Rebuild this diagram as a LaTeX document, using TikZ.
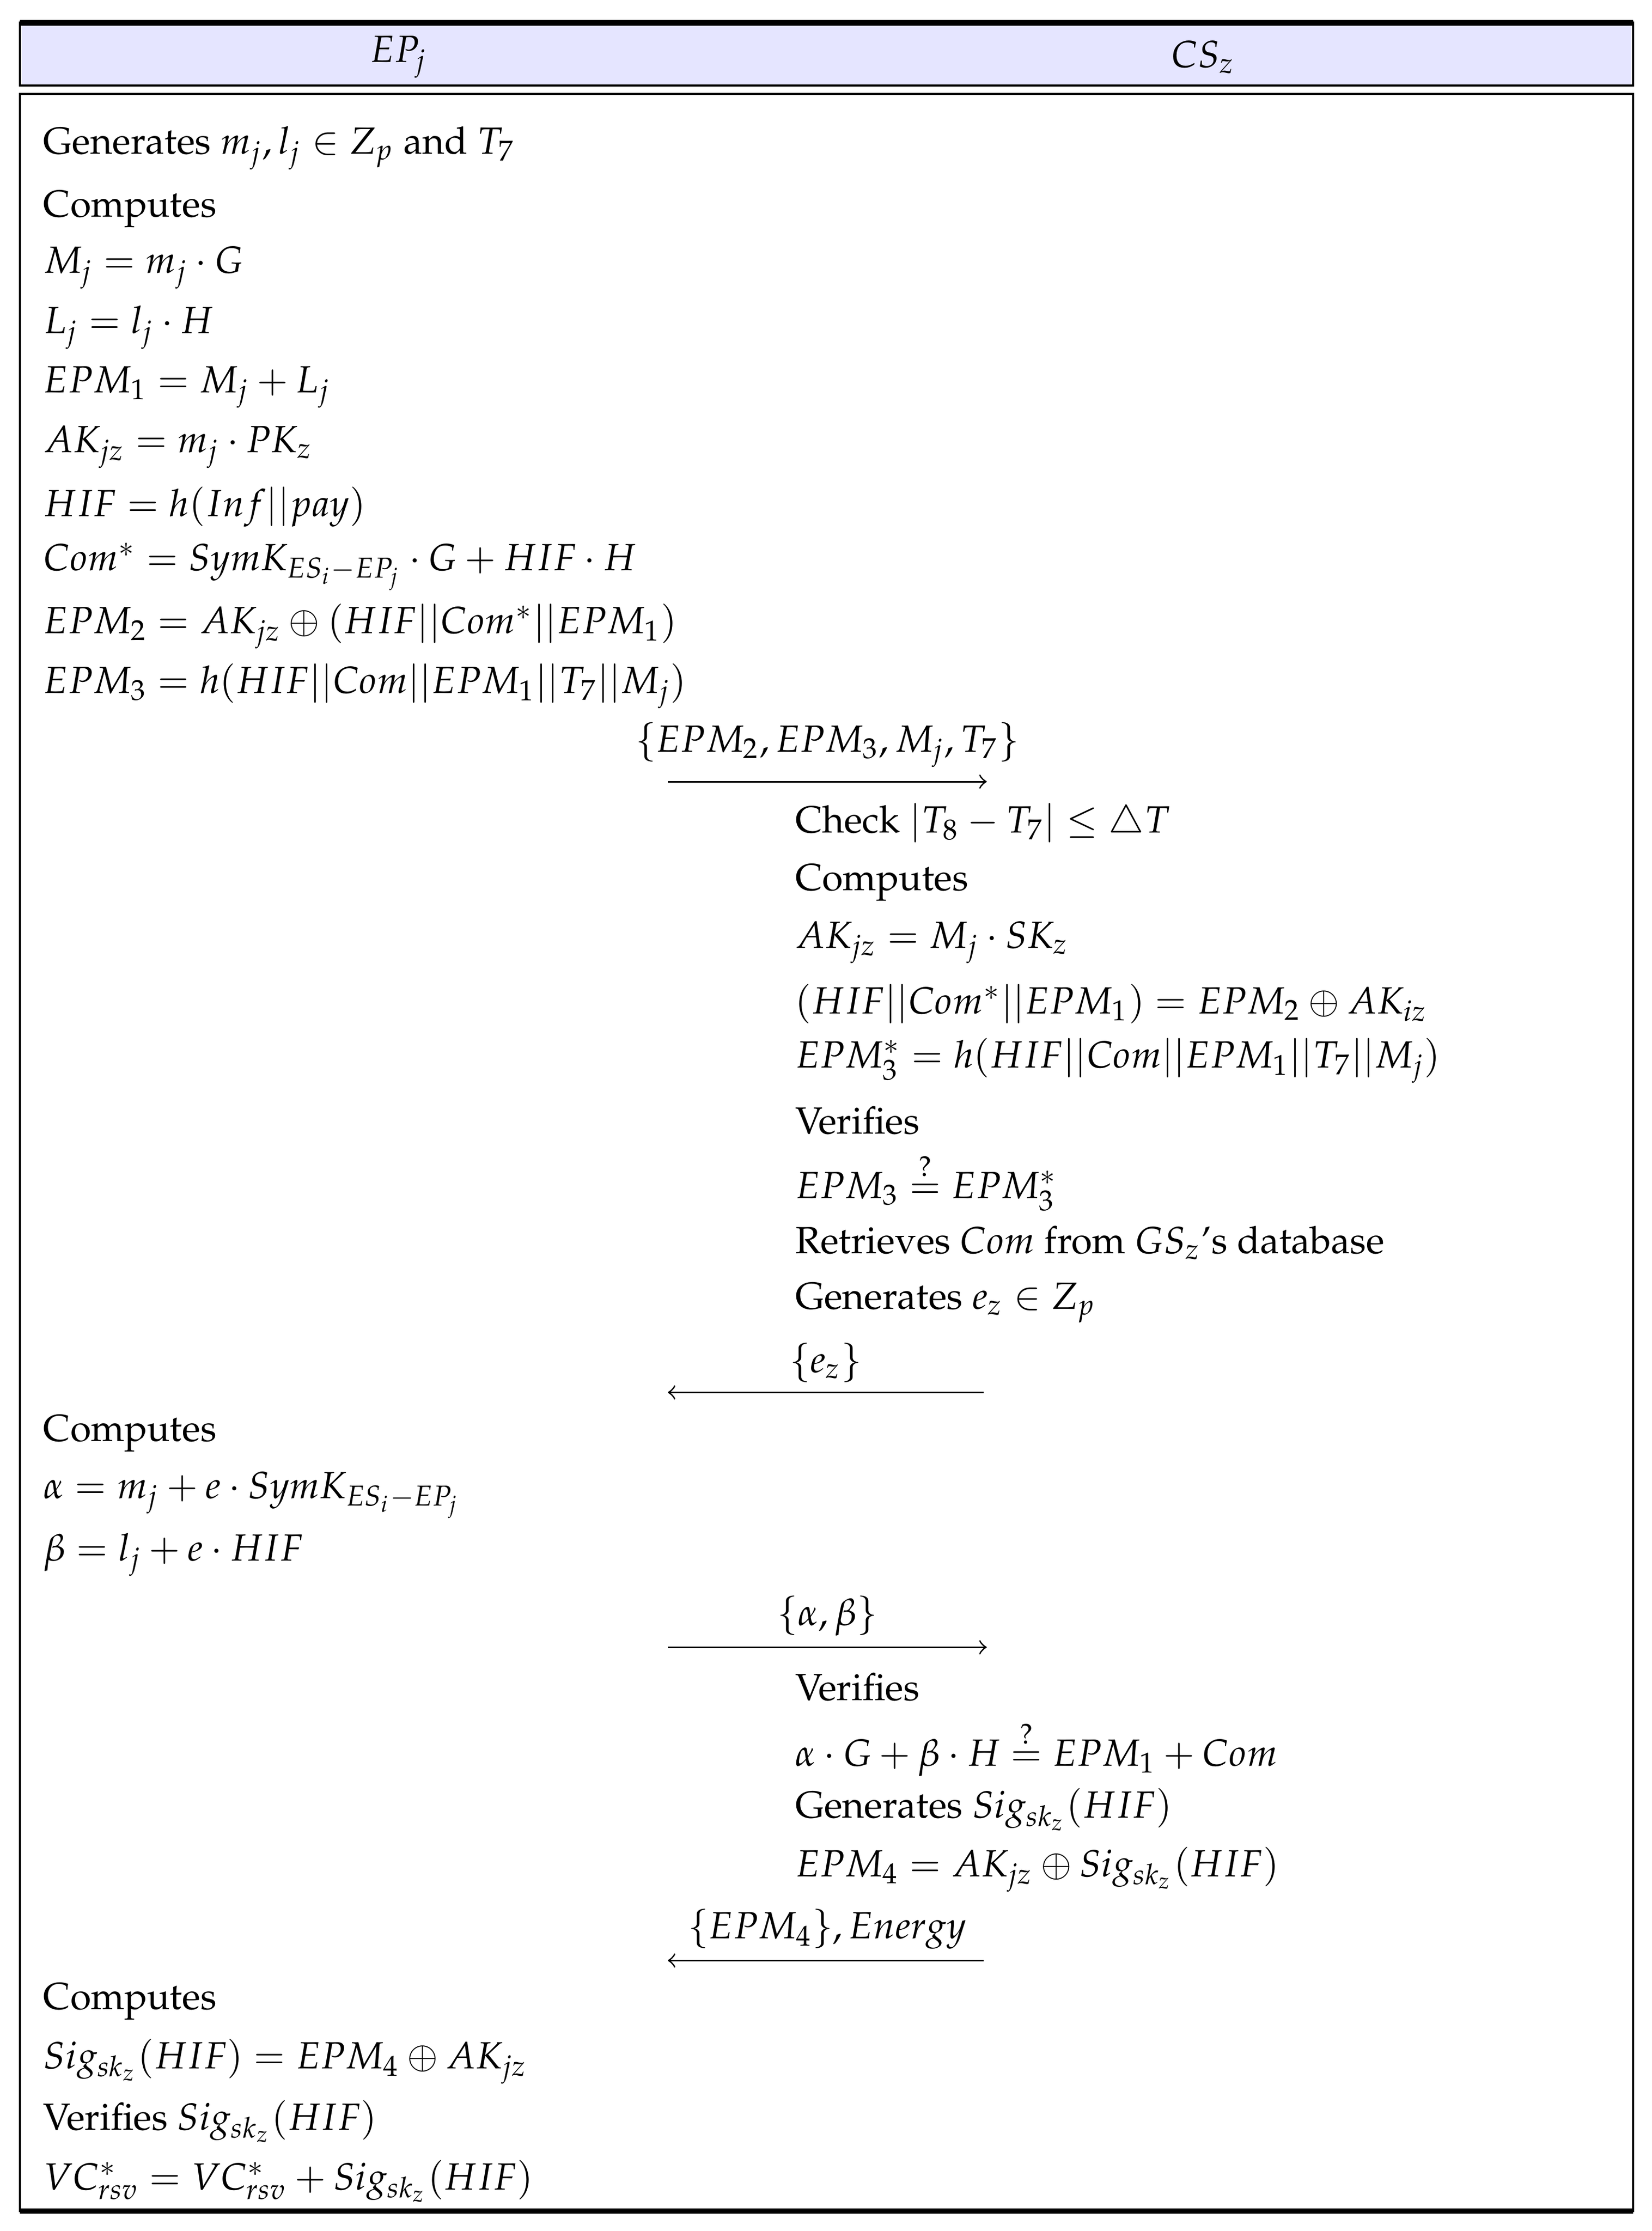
\documentclass[tikz,border=0pt]{standalone}
\usepackage[T1]{fontenc}
\usepackage{mathpazo}
\usepackage{amssymb}
\begin{document}
\begin{tikzpicture}[x=0.35pt,y=-0.35pt,
  txt/.style={anchor=west,inner sep=0pt,font=\fontfamily{ppl}\fontsize{9.3}{11}\selectfont},
  lbl/.style={anchor=center,inner sep=0pt,font=\fontfamily{ppl}\fontsize{9.3}{11}\selectfont},
  msg/.style={->,>=to,line width=0.4pt}]
\useasboundingbox (0,0) rectangle (1160,1567);
\draw[fill=blue!10,line width=0.6pt] (14,16) rectangle (1147,60);
\draw[line width=1.4pt] (14,16) -- (1147,16);
\draw[line width=0.6pt] (14,66) rectangle (1147,1553);
\draw[line width=1.4pt] (14,1553) -- (1147,1553);
\node[lbl] (h1) at (280,40) {$EP_j$};
\node[lbl] (h2) at (845,40) {$CS_z$};
% left column 1
\node[txt] (l1) at (30,104) {Generates $m_j, l_j \in Z_p$ and $T_7$};
\node[txt] (l2) at (30,147) {Computes};
\node[txt] (l3) at (30,188) {$M_j = m_j \cdot G$};
\node[txt] (l4) at (30,230) {$L_j = l_j \cdot H$};
\node[txt] (l5) at (30,272) {$EPM_1 = M_j + L_j$};
\node[txt] (l6) at (30,314) {$AK_{jz} = m_j \cdot PK_z$};
\node[txt] (l7) at (30,356) {$HIF = h(Inf||pay)$};
\node[txt] (l8) at (30,398) {$Com^{*} = SymK_{ES_i - EP_j} \cdot G + HIF \cdot H$};
\node[txt] (l9) at (30,440) {$EPM_2 = AK_{jz} \oplus (HIF||Com^{*}||EPM_1)$};
\node[txt] (l10) at (30,482) {$EPM_3 = h(HIF||Com||EPM_1||T_7||M_j)$};
% message 1
\coordinate (a1s) at (469,549); \coordinate (a1e) at (693,549);
\draw[msg] (a1s) -- (a1e);
\node[lbl] (m1) at (581,523) {$\{EPM_2, EPM_3, M_j, T_7\}$};
% right column 1
\node[txt] (r1) at (558,578) {Check $|T_8 - T_7| \leq \triangle T$};
\node[txt] (r2) at (558,620) {Computes};
\node[txt] (r3) at (558,662) {$AK_{jz} = M_j \cdot SK_z$};
\node[txt] (r4) at (558,705) {$(HIF||Com^{*}||EPM_1) = EPM_2 \oplus AK_{iz}$};
\node[txt] (r5) at (558,745) {$EPM_3^{*} = h(HIF||Com||EPM_1||T_7||M_j)$};
\node[txt] (r6) at (558,787) {Verifies};
\node[txt] (r7) at (558,830) {$EPM_3 \stackrel{?}{=} EPM_3^{*}$};
\node[txt] (r8) at (558,873) {Retrieves $Com$ from $GS_z$'s database};
\node[txt] (r9) at (558,915) {Generates $e_z \in Z_p$};
% message 2
\coordinate (a2s) at (691,978); \coordinate (a2e) at (469,978);
\draw[msg] (a2s) -- (a2e);
\node[lbl] (m2) at (580,957) {$\{e_z\}$};
% left column 2
\node[txt] (l11) at (30,1007) {Computes};
\node[txt] (l12) at (30,1050) {$\alpha = m_j + e \cdot SymK_{ES_i - EP_j}$};
\node[txt] (l13) at (30,1092) {$\beta = l_j + e \cdot HIF$};
% message 3
\coordinate (a3s) at (469,1157); \coordinate (a3e) at (693,1157);
\draw[msg] (a3s) -- (a3e);
\node[lbl] (m3) at (581,1135) {$\{\alpha, \beta\}$};
% right column 2
\node[txt] (r10) at (558,1185) {Verifies};
\node[txt] (r11) at (558,1228) {$\alpha \cdot G + \beta \cdot H \stackrel{?}{=} EPM_1 + Com$};
\node[txt] (r12) at (558,1271) {Generates $Sig_{sk_z}(HIF)$};
\node[txt] (r13) at (558,1313) {$EPM_4 = AK_{jz} \oplus Sig_{sk_z}(HIF)$};
% message 4
\coordinate (a4s) at (691,1377); \coordinate (a4e) at (469,1377);
\draw[msg] (a4s) -- (a4e);
\node[lbl] (m4) at (581,1355) {$\{EPM_4\}, Energy$};
% left column 3
\node[txt] (l14) at (30,1406) {Computes};
\node[txt] (l15) at (30,1448) {$Sig_{sk_z}(HIF) = EPM_4 \oplus AK_{jz}$};
\node[txt] (l16) at (30,1490) {Verifies $Sig_{sk_z}(HIF)$};
\node[txt] (l17) at (30,1532) {$VC_{rsv}^{*} = VC_{rsv}^{*} + Sig_{sk_z}(HIF)$};
\end{tikzpicture}
\end{document}
